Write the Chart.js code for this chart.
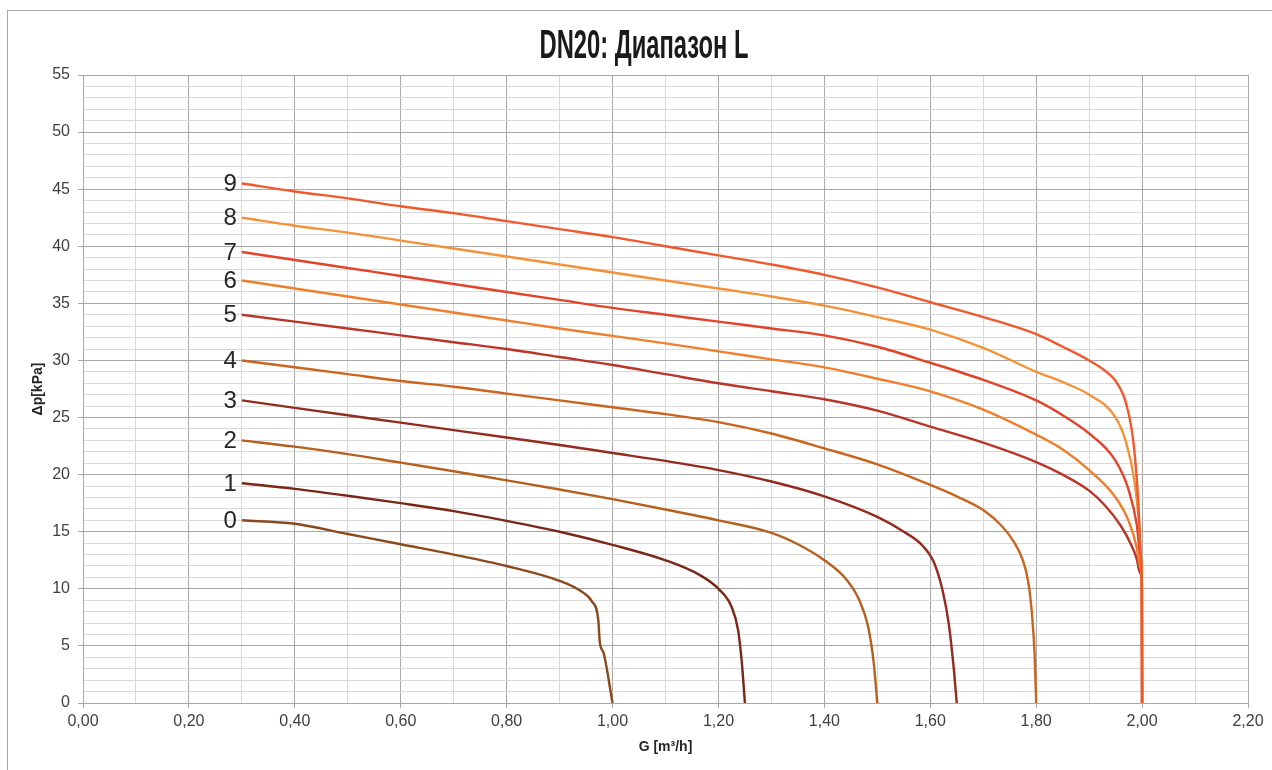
<!DOCTYPE html>
<html>
<head>
<meta charset="utf-8">
<script src="https://cdn.jsdelivr.net/npm/chart.js@4.4.1/dist/chart.umd.min.js"></script>
<style>
  html, body { margin: 0; padding: 0; background: #ffffff; }
  #wrap { width: 1272px; height: 770px; }
</style>
</head>
<body>
<div id="wrap"><canvas id="c" width="1272" height="770"></canvas></div>
<script>
// ---- Data ----
const TITLE = 'DN20: Диапазон L';
const X_TITLE = 'G [m³/h]';
const Y_TITLE = 'Δp[kPa]';
const CURVE_LABELS = ['0', '1', '2', '3', '4', '5', '6', '7', '8', '9'];

const G0  = [0.3, 0.4, 0.5, 0.6, 0.7, 0.8, 0.9, 0.94, 0.961, 0.973, 0.976, 0.983, 1.0];
const DP0 = [16.0, 15.7, 14.8, 13.9, 13.0, 12.0, 10.7, 9.8, 8.9, 7.3, 5.3, 4.4, 0];

const G1  = [0.3, 0.4, 0.5, 0.6, 0.7, 0.8, 0.9, 1.0, 1.1, 1.165, 1.2, 1.225, 1.237, 1.244, 1.25];
const DP1 = [19.25, 18.75, 18.15, 17.5, 16.8, 15.95, 15.0, 13.85, 12.5, 11.2, 10.0, 8.4, 6.4, 3.6, 0];

const G2  = [0.3, 0.4, 0.5, 0.6, 0.7, 0.8, 0.9, 1.0, 1.1, 1.2, 1.3, 1.35, 1.4, 1.44, 1.465, 1.482, 1.493, 1.5];
const DP2 = [23.0, 22.45, 21.8, 21.05, 20.3, 19.5, 18.7, 17.85, 16.95, 16.0, 14.9, 13.9, 12.5, 10.9, 9.1, 6.8, 3.6, 0];

const G3  = [0.3, 0.4, 0.5, 0.6, 0.7, 0.8, 0.9, 1.0, 1.1, 1.2, 1.3, 1.4, 1.5, 1.55, 1.585, 1.608, 1.624, 1.635, 1.644, 1.65];
const DP3 = [26.5, 25.85, 25.2, 24.55, 23.9, 23.25, 22.6, 21.9, 21.2, 20.4, 19.4, 18.1, 16.3, 15.0, 13.8, 12.2, 9.7, 6.9, 3.2, 0];

const G4  = [0.3, 0.4, 0.5, 0.6, 0.7, 0.8, 0.9, 1.0, 1.1, 1.2, 1.3, 1.4, 1.5, 1.6, 1.65, 1.7, 1.735, 1.758, 1.774, 1.785, 1.792, 1.797, 1.8];
const DP4 = [30.0, 29.4, 28.8, 28.2, 27.7, 27.1, 26.5, 25.9, 25.3, 24.6, 23.6, 22.3, 20.9, 19.1, 18.1, 16.9, 15.5, 14.1, 12.6, 10.6, 7.8, 4.3, 0];

const G5  = [0.3, 0.4, 0.5, 0.6, 0.7, 0.8, 0.9, 1.0, 1.1, 1.2, 1.3, 1.4, 1.5, 1.6, 1.7, 1.8, 1.85, 1.9, 1.93, 1.96, 1.98, 1.99, 1.996, 1.9995, 2.0];
const DP5 = [34.0, 33.4, 32.8, 32.2, 31.6, 31.0, 30.3, 29.6, 28.8, 28.0, 27.3, 26.6, 25.6, 24.2, 22.8, 21.1, 20.0, 18.6, 17.3, 15.5, 13.8, 12.6, 11.4, 10.2, 0];

const G6  = [0.3, 0.4, 0.5, 0.6, 0.7, 0.8, 0.9, 1.0, 1.1, 1.2, 1.3, 1.4, 1.5, 1.6, 1.7, 1.8, 1.85, 1.9, 1.95, 1.975, 1.99, 1.996, 1.9995, 2.0];
const DP6 = [37.0, 36.3, 35.6, 34.9, 34.2, 33.5, 32.8, 32.15, 31.5, 30.8, 30.1, 29.4, 28.4, 27.3, 25.7, 23.5, 22.2, 20.4, 18.0, 15.9, 13.6, 12.0, 10.3, 0];

const G7  = [0.3, 0.4, 0.5, 0.6, 0.7, 0.8, 0.9, 1.0, 1.1, 1.2, 1.3, 1.4, 1.5, 1.6, 1.7, 1.8, 1.85, 1.9, 1.95, 1.975, 1.99, 1.996, 1.9995, 2.0];
const DP7 = [39.5, 38.8, 38.1, 37.4, 36.7, 36.0, 35.3, 34.6, 34.0, 33.4, 32.8, 32.2, 31.2, 29.8, 28.3, 26.5, 25.2, 23.6, 21.2, 18.6, 15.6, 13.2, 10.4, 0];

const G8  = [0.3, 0.4, 0.5, 0.6, 0.7, 0.8, 0.9, 1.0, 1.1, 1.2, 1.3, 1.4, 1.5, 1.6, 1.7, 1.8, 1.85, 1.9, 1.95, 1.97, 1.985, 1.994, 1.998, 1.9995, 2.0];
const DP8 = [42.5, 41.8, 41.2, 40.5, 39.8, 39.1, 38.4, 37.7, 37.0, 36.3, 35.6, 34.8, 33.8, 32.7, 31.1, 29.0, 28.1, 27.0, 25.0, 22.8, 19.6, 15.8, 12.8, 10.4, 0];

const G9  = [0.3, 0.4, 0.5, 0.6, 0.7, 0.8, 0.9, 1.0, 1.1, 1.2, 1.3, 1.4, 1.5, 1.6, 1.7, 1.8, 1.85, 1.9, 1.93, 1.95, 1.97, 1.984, 1.993, 1.998, 1.9995, 2.0];
const DP9 = [45.5, 44.8, 44.2, 43.5, 42.9, 42.2, 41.5, 40.8, 40.0, 39.2, 38.4, 37.5, 36.4, 35.1, 33.8, 32.3, 31.2, 30.0, 29.1, 28.2, 26.2, 22.7, 17.5, 12.5, 10.4, 0];

const X_MIN = 0, X_MAX = 2.2, X_STEP = 0.1;
const Y_MIN = 0, Y_MAX = 55, Y_STEP = 1;

// ---- Styles ----
const COLORS = ['#8a4a1d', '#7b2718', '#b5601e', '#922c1f', '#c9651f',
                '#b8352a', '#ef7f2d', '#e2432b', '#f4923a', '#f0592d'];
const GRID_MAJOR = '#a8a8a8';
const GRID_MINOR = '#d9d9d9';
const TEXT = '#404040';

const SERIES_G = [G0, G1, G2, G3, G4, G5, G6, G7, G8, G9];
const SERIES_DP = [DP0, DP1, DP2, DP3, DP4, DP5, DP6, DP7, DP8, DP9];

const datasets = SERIES_G.map((gArr, i) => ({
  label: CURVE_LABELS[i],
  data: gArr.map((g, k) => ({ x: g, y: SERIES_DP[i][k] })),
  borderColor: COLORS[i],
  backgroundColor: COLORS[i],
  borderWidth: 2.4,
  pointRadius: 0,
  pointHoverRadius: 0,
  fill: false,
  cubicInterpolationMode: 'monotone',
  order: 9 - i
}));

const isMajorX = v => Math.round(v * 10) % 2 === 0;
const isMajorY = v => Math.round(v) % 5 === 0;

const framePlugin = {
  id: 'frame',
  beforeDraw(chart) {
    const ctx = chart.ctx;
    ctx.save();
    ctx.fillStyle = '#ffffff';
    ctx.fillRect(0, 0, chart.width, chart.height);
    ctx.strokeStyle = '#a6a6a6';
    ctx.lineWidth = 1;
    ctx.strokeRect(7.5, 10.5, chart.width + 20, chart.height + 20);
    ctx.restore();
  },
  afterDraw(chart) {
    const ctx = chart.ctx;
    ctx.save();
    // Title (condensed bold)
    ctx.font = 'bold 40px "Liberation Sans Narrow", "Liberation Sans", sans-serif';
    ctx.fillStyle = '#1a1a1a';
    ctx.textAlign = 'center';
    ctx.textBaseline = 'alphabetic';
    const w = ctx.measureText(TITLE).width;
    const sx = 209 / w;
    ctx.translate(644, 58);
    ctx.scale(sx, 1);
    ctx.fillText(TITLE, 0, 0);
    ctx.restore();
  }
};

const curveLabelPlugin = {
  id: 'curveLabels',
  afterDatasetsDraw(chart) {
    const ctx = chart.ctx;
    ctx.save();
    ctx.font = '24px "Liberation Sans", Arial, sans-serif';
    ctx.fillStyle = '#262626';
    ctx.textAlign = 'right';
    ctx.textBaseline = 'middle';
    chart.data.datasets.forEach((ds, i) => {
      const meta = chart.getDatasetMeta(i);
      const p = meta.data[0];
      if (p) ctx.fillText(ds.label, p.x - 5, p.y + 1);
    });
    ctx.restore();
  }
};

new Chart(document.getElementById('c'), {
  type: 'line',
  data: { datasets },
  options: {
    responsive: false,
    animation: false,
    devicePixelRatio: 1,
    layout: { padding: { top: 75, right: 24, bottom: 0, left: 0 } },
    plugins: {
      legend: { display: false },
      tooltip: { enabled: false },
      title: { display: false }
    },
    scales: {
      x: {
        type: 'linear',
        position: 'bottom',
        min: X_MIN,
        max: X_MAX,
        afterFit: s => { s.height = 67; },
        ticks: {
          stepSize: X_STEP,
          autoSkip: false,
          maxRotation: 0,
          minRotation: 0,
          padding: 4,
          color: TEXT,
          font: { family: '"Liberation Sans", Arial, sans-serif', size: 16 },
          callback: v => isMajorX(v) ? v.toFixed(2).replace('.', ',') : ''
        },
        grid: {
          color: c => isMajorX(c.tick.value) ? GRID_MAJOR : GRID_MINOR,
          tickColor: c => isMajorX(c.tick.value) ? GRID_MAJOR : 'rgba(0,0,0,0)',
          tickLength: 5,
          lineWidth: 1
        },
        border: { color: GRID_MAJOR, width: 1 },
        title: {
          display: true,
          text: X_TITLE,
          color: '#262626',
          font: { family: '"Liberation Sans", Arial, sans-serif', size: 14, weight: 'bold' },
          padding: { top: 0, bottom: 14 }
        }
      },
      y: {
        type: 'linear',
        position: 'left',
        min: Y_MIN,
        max: Y_MAX,
        afterFit: s => { s.width = 83; },
        ticks: {
          stepSize: Y_STEP,
          autoSkip: false,
          padding: 8,
          color: TEXT,
          font: { family: '"Liberation Sans", Arial, sans-serif', size: 16 },
          callback: v => isMajorY(v) ? String(v) : ''
        },
        grid: {
          color: c => isMajorY(c.tick.value) ? GRID_MAJOR : GRID_MINOR,
          tickColor: c => isMajorY(c.tick.value) ? GRID_MAJOR : 'rgba(0,0,0,0)',
          tickLength: 5,
          lineWidth: 1
        },
        border: { color: GRID_MAJOR, width: 1 },
        title: {
          display: true,
          text: Y_TITLE,
          color: '#262626',
          font: { family: '"Liberation Sans", Arial, sans-serif', size: 14, weight: 'bold' },
          padding: { top: 30, bottom: 0 }
        }
      }
    }
  },
  plugins: [framePlugin, curveLabelPlugin]
});
</script>
</body>
</html>
